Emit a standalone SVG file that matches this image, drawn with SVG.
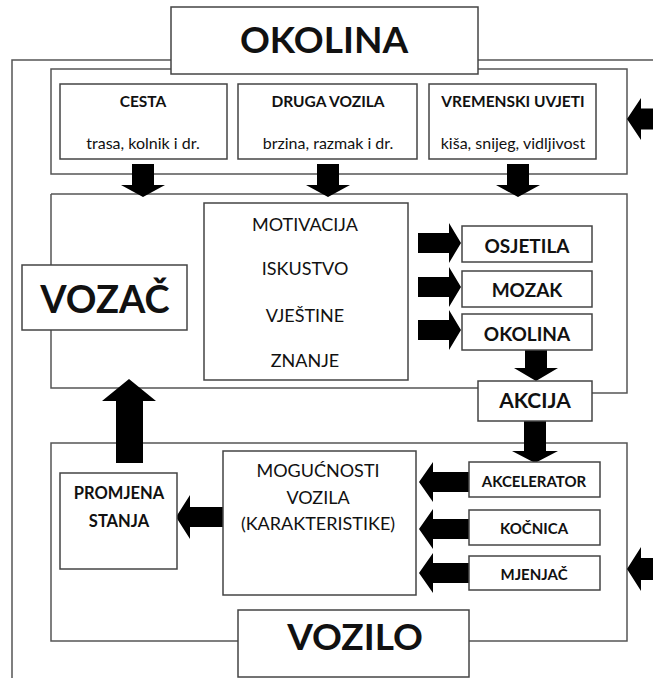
<svg xmlns="http://www.w3.org/2000/svg" width="653" height="678" viewBox="0 0 653 678">
<style>
.frame{fill:none;stroke:#555;stroke-width:1.5}
.box{fill:#fff;stroke:#444;stroke-width:1.5}
.arr{fill:#000}
text{font-family:Lato,"Open Sans","DejaVu Sans",sans-serif;fill:#111;text-anchor:middle}
.b{font-weight:bold}
.big{font-size:37px;font-weight:bold}
.t{font-size:15.5px;font-weight:bold}
.s{font-size:16px}
.m{font-size:18px}
.r{font-size:19px;font-weight:bold}
.a{font-size:15px;font-weight:bold}
</style>
<rect width="653" height="678" fill="#fff"/>
<g id="frames">
<path class="frame" d="M12,678 V60 H171 M478,60 H653"/>
<rect class="frame" x="51" y="69" width="576" height="105"/>
<path class="frame" d="M51,194 H627 V393 H592 M478,388 H51 V194"/>
<path class="frame" d="M238,641 H51 V443 H627 V641 H469"/>
</g>
<g id="connectors">
<polygon class="arr" points="132,164 154,164 154,185 165,185 143,197 121,185 132,185"/>
<polygon class="arr" points="317,164 339,164 339,185 350,185 328,197 306,185 317,185"/>
<polygon class="arr" points="507,164 529,164 529,185 540,185 518,197 496,185 507,185"/>
<polygon class="arr" points="653,108.5 641,108.5 641,98 627,119 641,140 641,129.5 653,129.5"/>
<polygon class="arr" points="418,233 449,233 449,223 461,243 449,263 449,253 418,253"/>
<polygon class="arr" points="418,277 449,277 449,267 461,287 449,307 449,297 418,297"/>
<polygon class="arr" points="418,320 449,320 449,310 461,330 449,350 449,340 418,340"/>
<polygon class="arr" points="525,350 547,350 547,368 558,368 536,381 514,368 525,368"/>
<polygon class="arr" points="524,421 546,421 546,451 558,451 535,463 512,451 524,451"/>
<polygon class="arr" points="116,463 143,463 143,401 156,401 129,379 102,401 116,401"/>
<polygon class="arr" points="469,472 433,472 433,462 419,482 433,502 433,492 469,492"/>
<polygon class="arr" points="469,519 433,519 433,509 419,529 433,549 433,539 469,539"/>
<polygon class="arr" points="469,563 433,563 433,553 419,573 433,593 433,583 469,583"/>
<polygon class="arr" points="223,507 190,507 190,495 176,517 190,539 190,527 223,527"/>
<polygon class="arr" points="653,558 641,558 641,547 627,569 641,591 641,580 653,580"/>
</g>
<g id="okolina">
<rect class="box" x="171" y="7" width="307" height="67"/>
<text class="big" x="324" y="53">OKOLINA</text>
</g>
<g id="cesta">
<rect class="box" x="60" y="84" width="167" height="75"/>
<text class="t" x="143" y="107">CESTA</text>
<text class="s" x="143" y="149">trasa, kolnik i dr.</text>
</g>
<g id="druga-vozila">
<rect class="box" x="238" y="84" width="179" height="75"/>
<text class="t" x="328" y="107">DRUGA VOZILA</text>
<text class="s" x="328" y="149">brzina, razmak i dr.</text>
</g>
<g id="vremenski-uvjeti">
<rect class="box" x="429" y="84" width="167" height="75"/>
<text class="t" x="513" y="107">VREMENSKI UVJETI</text>
<text class="s" x="513" y="149">kiša, snijeg, vidljivost</text>
</g>
<g id="vozac">
<rect class="box" x="22" y="265" width="165" height="65"/>
<text class="b" x="105" y="313" font-size="38">VOZAČ</text>
</g>
<g id="osobine">
<rect class="box" x="204" y="203" width="204" height="177"/>
<text class="m" x="305" y="231">MOTIVACIJA</text>
<text class="m" x="305" y="275">ISKUSTVO</text>
<text class="m" x="305" y="322">VJEŠTINE</text>
<text class="m" x="305" y="367">ZNANJE</text>
</g>
<g id="osjetila">
<rect class="box" x="462" y="226" width="130" height="36"/>
<text class="r" x="527" y="253">OSJETILA</text>
</g>
<g id="mozak">
<rect class="box" x="462" y="271" width="130" height="36"/>
<text class="r" x="527" y="297">MOZAK</text>
</g>
<g id="okolina2">
<rect class="box" x="462" y="314" width="130" height="36"/>
<text class="r" x="527" y="341">OKOLINA</text>
</g>
<g id="akcija">
<rect class="box" x="478" y="381" width="114" height="40"/>
<text class="b" x="535" y="408" font-size="21">AKCIJA</text>
</g>
<g id="promjena-stanja">
<rect class="box" x="60" y="473" width="117" height="96"/>
<text class="b" x="119" y="499" font-size="16.5">PROMJENA</text>
<text class="b" x="119" y="527" font-size="16.5">STANJA</text>
</g>
<g id="mogucnosti">
<rect class="box" x="223" y="451" width="193" height="144"/>
<text class="m" x="318" y="477">MOGUĆNOSTI</text>
<text class="m" x="318" y="504">VOZILA</text>
<text class="m" x="318" y="530">(KARAKTERISTIKE)</text>
</g>
<g id="akcelerator">
<rect class="box" x="469" y="462" width="131" height="35"/>
<text class="a" x="534" y="487">AKCELERATOR</text>
</g>
<g id="kocnica">
<rect class="box" x="469" y="510" width="131" height="35"/>
<text class="a" x="534" y="534">KOČNICA</text>
</g>
<g id="mjenjac">
<rect class="box" x="469" y="556" width="131" height="34"/>
<text class="a" x="534" y="580">MJENJAČ</text>
</g>
<g id="vozilo">
<rect class="box" x="238" y="610" width="231" height="67"/>
<text class="big" x="355" y="650">VOZILO</text>
</g>
</svg>
